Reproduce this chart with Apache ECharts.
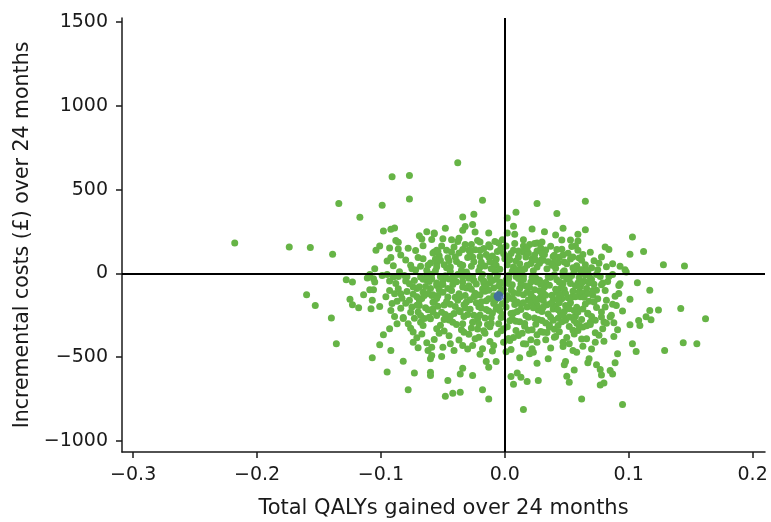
<!DOCTYPE html>
<html>
<head>
<meta charset="utf-8">
<script src="https://cdn.jsdelivr.net/npm/echarts@6/dist/echarts.min.js"></script>
<style>
  html, body { margin: 0; padding: 0; background: #fff; }
  #main { width: 771px; height: 522px; }
</style>
</head>
<body>
<div id="main"></div>
<script>
// bootstrap replicates: [QALYs gained, incremental cost £]
var simLeft = [
  [-0.218,181],[-0.174,157],[-0.157,154],[-0.139,114],[-0.134,417],
  [-0.160,-127],[-0.153,-191],[-0.140,-267],[-0.136,-420],
  [-0.091,576],[-0.077,584],[-0.099,407],[-0.077,444],[-0.117,335],[-0.098,253],[-0.092,263],[-0.089,271],
  [-0.069,225],[-0.063,249],[-0.057,237],[-0.067,205],[-0.059,202],[-0.088,196],[-0.086,185],[-0.101,163],
  [-0.104,138],[-0.093,151],[-0.086,145],[-0.072,136],[-0.057,127],[-0.092,94],[-0.095,74],[-0.090,46],
  [-0.076,48],[-0.075,28],[-0.068,42],[-0.062,48],[-0.055,58],[-0.105,28],[-0.109,-6],[-0.111,-28],
  [-0.106,-32],[-0.105,-52],[-0.099,-12],[-0.095,-6],[-0.090,-22],[-0.086,-18],[-0.080,-46],[-0.128,-38],
  [-0.123,-52],[-0.068,-22],[-0.063,-6],[-0.059,-32],
  [-0.125,-155],[-0.123,-187],[-0.118,-205],[-0.114,-127],[-0.109,-97],[-0.106,-97],[-0.107,-161],[-0.108,-211],
  [-0.101,-197],[-0.093,-102],[-0.089,-121],[-0.084,-121],[-0.087,-167],[-0.092,-221],[-0.079,-108],[-0.077,-161],
  [-0.075,-201],[-0.070,-231],[-0.069,-161],[-0.073,-42],[-0.082,-263],[-0.093,-331],[-0.098,-367],[-0.076,-327],
  [-0.101,-426],[-0.092,-460],[-0.107,-504],[-0.082,-524],[-0.074,-411],[-0.070,-444],[-0.063,-414],[-0.062,-460],
  [-0.060,-510],[-0.095,-588],[-0.073,-594],[-0.060,-590],[-0.060,-610],[-0.078,-695],[-0.066,-311],[-0.068,-291],
  [-0.060,-271],[-0.055,-251],[-0.069,-191],[-0.059,-132],[-0.058,-211],[-0.055,-331],[-0.071,-91],[-0.066,-112],
  [-0.060,-91],[-0.055,-72],[-0.058,-172],[-0.054,-132],
  [-0.088,-60],[-0.083,-148],[-0.079,-20],[-0.074,-82],[-0.071,-140],[-0.068,-252],[-0.066,-35],[-0.064,-205],
  [-0.082,-270],[-0.076,-232],[-0.072,20],[-0.080,80],[-0.085,10],
  [-0.096,-140],[-0.093,-45],[-0.091,-180],[-0.089,-258],[-0.086,-92],[-0.084,-208],[-0.081,-12],[-0.080,-178],
  [-0.078,-300],[-0.077,-62],[-0.074,-125],[-0.073,-268],[-0.071,-190],[-0.069,-80],[-0.067,-150],[-0.065,-270],
  [-0.063,-40],[-0.062,-120],[-0.084,110],[-0.078,150],[-0.070,95],[-0.066,165],[-0.074,-350],[-0.087,-300]
];
var simMid = [
  [-0.038,660],[-0.018,437],[0.026,417],[0.009,365],[0.002,331],[-0.025,353],[-0.034,337],[-0.026,291],
  [-0.032,279],[0.007,281],[0.022,265],[-0.048,269],[-0.057,241],[-0.013,241],[0.002,241],[0.008,233],
  [-0.024,247],[-0.034,257],[-0.037,209],[-0.043,201],[-0.050,207],[-0.002,201],[-0.008,190],[0.015,201],
  [0.026,181],[-0.020,187],[-0.027,173],[0.020,173],[-0.055,138],[-0.047,138],[-0.034,142],[-0.020,138],
  [-0.012,157],[-0.004,138],[0.007,138],[0.015,127],[-0.026,97],[-0.040,97],[-0.052,78],[-0.013,97],
  [0.000,88],[0.011,97],[0.022,88],[-0.034,48],[-0.044,38],[-0.020,38],[-0.007,48],[0.007,38],
  [0.018,48],[-0.055,38],[-0.042,-22],[-0.026,-32],[-0.012,-22],[0.003,-32],[0.015,-18],[-0.050,-42],
  [-0.034,-52],[-0.017,-58],[-0.004,-52],[0.023,-42],
  [-0.059,-490],[-0.051,-496],[-0.046,-640],[-0.036,-600],[-0.034,-566],[-0.026,-610],[-0.048,-734],[-0.042,-716],
  [-0.036,-710],[-0.018,-694],[-0.013,-749],[-0.020,-483],[-0.015,-526],[-0.007,-526],[-0.013,-560],[0.005,-616],
  [0.010,-594],[0.013,-620],[0.007,-662],[0.018,-646],[0.027,-640],[0.015,-813],[0.012,-504],[0.020,-480],
  [0.005,-454],[-0.050,-441],[-0.044,-420],[-0.059,-441],[-0.034,-430],[-0.026,-430],[-0.018,-450],[-0.009,-430],
  [-0.001,-411],[0.004,-401],[0.015,-420],[0.026,-411]
];
var simCore = [
  [-0.061,-48],[-0.057,-173],[-0.053,-96],[-0.051,-232],[-0.048,-14],[-0.046,-141],[-0.045,-278],[-0.042,-67],
  [-0.040,-198],[-0.039,-305],[-0.037,-122],[-0.034,-21],[-0.033,-187],[-0.031,-88],[-0.030,-246],[-0.028,-157],
  [-0.027,-326],[-0.025,-43],[-0.024,-118],[-0.022,-272],[-0.021,-199],[-0.019,-31],[-0.018,-93],[-0.017,-342],
  [-0.015,-163],[-0.013,-224],[-0.012,-56],[-0.011,-297],[-0.009,-134],[-0.008,12],[-0.007,-212],[-0.005,-76],
  [-0.003,-263],[-0.002,-181],[0.001,-39],[0.002,-318],[0.004,-148],[0.005,-97],[0.007,-236],[0.009,-18],
  [0.010,-171],[0.012,-289],[0.013,-63],[0.015,-128],[0.017,-251],[0.018,-201],[0.020,-84],[0.022,-336],
  [0.023,-145],[0.025,-27],[0.027,-219],[0.028,-104],[0.030,-281],[0.031,-162],[0.033,-55],[0.035,-243],
  [0.036,-308],[0.038,-131],[0.040,-8],[0.041,-196],[0.043,-268],[0.045,-89],[0.046,-152],[0.048,-227],
  [0.050,-33],[0.052,-317],[0.053,-176],[0.055,-106],[0.057,-254],[0.059,-58],[0.061,-139],[0.063,-212],
  [0.066,-91],[0.068,-167],[0.070,-37],
  [-0.065,-132],[-0.062,-217],[-0.059,-5],[-0.055,-58],[-0.050,-112],[-0.049,-188],[-0.044,-256],[-0.041,-38],
  [-0.038,-161],[-0.036,-229],[-0.032,-132],[-0.029,-74],[-0.026,-18],[-0.023,-176],[-0.020,-248],[-0.016,-106],
  [-0.014,-305],[-0.010,-42],[-0.006,-149],[-0.004,-222],[-0.001,-96],[0.003,-13],[0.006,-271],[0.008,-186],
  [0.011,-118],[0.014,-7],[0.016,-299],[0.019,-159],[0.021,-51],[0.024,-266],[0.026,-189],[0.029,-139],
  [0.032,-81],[0.034,-353],[0.037,-23],[0.039,-212],[0.042,-114],[0.044,-176],[0.047,-61],[0.049,-280],
  [0.051,-146],[0.054,-12],[0.056,-221],[0.058,-298],[0.060,-109],[0.064,-47],[0.067,-238],[0.071,-130],[0.074,-204],
  [-0.060,62],[-0.053,105],[-0.047,34],[-0.043,128],[-0.039,71],[-0.035,18],[-0.030,94],[-0.027,42],
  [-0.024,141],[-0.019,66],[-0.015,112],[-0.011,27],[-0.007,84],[-0.003,153],[0.002,51],[0.005,118],
  [0.009,74],[0.013,22],[0.017,98],[0.021,59],[0.026,134],[0.030,84],[0.034,27],[0.039,101],
  [0.043,63],[0.048,15],[0.053,86],[0.058,45],[0.063,112],[0.067,9],
  [-0.045,-372],[-0.037,-398],[-0.029,-364],[-0.021,-381],[-0.012,-407],[-0.006,-362],[0.003,-388],[0.011,-371],
  [0.017,-422],[0.026,-366],[0.033,-396],[0.041,-377],[0.047,-437],[0.056,-362],[0.062,-392],[-0.053,-358],
  [-0.064,-78],[-0.061,-262],[-0.058,-128],[-0.056,16],[-0.054,-196],[-0.052,-310],[-0.050,-67],[-0.048,-245],
  [-0.047,-168],[-0.045,-33],[-0.043,-102],[-0.042,-291],[-0.040,-143],[-0.038,-7],[-0.037,-221],[-0.035,-336],
  [-0.034,-82],[-0.033,-258],[-0.031,-171],[-0.029,-29],[-0.028,-214],[-0.026,-291],[-0.025,-139],[-0.023,-64],
  [-0.022,-332],[-0.020,-128],[-0.019,-207],[-0.018,-6],[-0.016,-266],[-0.015,-72],[-0.013,-151],[-0.012,-318],
  [-0.010,-237],[-0.009,-87],[-0.008,-164],[-0.006,-12],[-0.005,-301],[-0.004,-118],[-0.002,-246],[-0.001,-57],
  [0.001,-201],[0.002,-133],[0.004,-283],[0.006,-68],[0.007,-154],[0.009,-341],[0.010,-227],[0.012,-91],
  [0.013,-183],[0.015,-36],[0.016,-316],[0.018,-112],[0.019,-262],[0.021,-176],[0.022,-24],[0.024,-98],
  [0.025,-303],[0.027,-154],[0.028,-41],[0.030,-227],[0.031,-116],[0.033,-296],[0.034,-187],[0.036,-71],
  [0.037,-262],[0.039,-159],[0.040,-333],[0.042,-38],[0.043,-217],[0.045,-126],[0.046,-288],[0.048,-96],
  [0.049,-191],[0.051,-16],[0.052,-261],[0.054,-142],[0.055,-339],[0.057,-74],[0.058,-202],[0.060,-24],
  [0.062,-276],[0.063,-118],[0.065,-183],[0.066,-313],[0.068,-56],[0.070,-258],[0.072,-171],[0.074,-101],
  [0.077,-18],[0.080,-290],
  [-0.066,88],[-0.063,18],[-0.058,121],[-0.056,86],[-0.051,164],[-0.049,52],[-0.046,93],[-0.044,11],
  [-0.041,158],[-0.037,122],[-0.036,55],[-0.032,173],[-0.031,8],[-0.028,118],[-0.025,70],[-0.022,196],
  [-0.021,14],[-0.017,149],[-0.016,44],[-0.013,171],[-0.010,104],[-0.009,59],[-0.005,182],[-0.004,24],
  [-0.001,117],[0.001,164],[0.004,82],[0.006,12],[0.008,179],[0.011,133],[0.012,58],[0.015,164],
  [0.016,26],[0.019,122],[0.023,15],[0.024,109],[0.028,61],[0.029,152],[0.032,113],[0.035,69],
  [0.037,162],[0.041,31],[0.044,96],[0.046,144],[0.050,57],[0.051,120],[0.056,13],[0.057,164],
  [0.060,91],[0.065,52],[0.069,126],[0.072,76],[0.075,21],[0.078,98],[0.082,40],
  [-0.057,-395],[-0.049,-344],[-0.041,-461],[-0.033,-351],[-0.030,-452],[-0.024,-390],[-0.016,-358],[-0.010,-464],
  [-0.003,-343],[0.001,-468],[0.007,-382],[0.014,-357],[0.021,-396],[0.023,-470],[0.029,-347],[0.037,-446],
  [0.044,-348],[0.050,-383],[0.059,-341],[0.066,-390],[0.070,-452],[0.076,-370],[-0.067,-362],[-0.071,-384],
  [-0.058,-230],[-0.055,-150],[-0.052,-20],[-0.049,-275],[-0.046,-90],[-0.044,-185],[-0.041,-240],[-0.039,-50],
  [-0.036,-140],[-0.034,-300],[-0.032,-205],[-0.030,-10],[-0.027,-95],[-0.025,-250],[-0.023,-130],[-0.021,-300],
  [-0.019,-170],[-0.017,-45],[-0.015,-215],[-0.013,-100],[-0.011,-265],[-0.009,-180],[-0.007,-35],[-0.005,-200],
  [-0.003,-110],[-0.001,-330],[0.001,-160],[0.003,-60],[0.005,-240],[0.007,-115],[0.009,-285],[0.011,-30],
  [0.013,-215],[0.015,-175],[0.017,-75],[0.019,-340],[0.021,-125],[0.023,-205],[0.025,-160],[0.027,-275],
  [0.029,-65],[0.031,-200],[0.033,-130],[0.035,-20],[0.037,-180],[0.039,-280],[0.041,-95],[0.043,-150],
  [0.045,-240],[0.047,-15],[0.049,-120],[0.051,-205],[0.053,-60],[0.055,-265],[0.057,-140],[0.059,-230],
  [0.061,-80],[0.063,-320],[0.065,-10],[0.067,-120],
  [-0.054,130],[-0.045,75],[-0.038,190],[-0.029,140],[-0.020,100],[-0.012,70],[-0.006,130],[0.003,100],
  [0.010,20],[0.018,150],[0.025,80],[0.033,140],[0.040,70],[0.047,110],[0.054,160],[0.061,20]
];
var simRight = [
  [0.065,431],[0.042,357],[0.032,249],[0.047,269],[0.065,261],[0.059,233],[0.041,229],[0.046,199],
  [0.053,199],[0.059,193],[0.030,187],[0.024,178],[0.103,217],[0.081,157],[0.084,142],[0.059,138],
  [0.042,142],[0.030,118],[0.101,114],[0.040,108],[0.055,97],[0.062,78],[0.048,68],[0.031,78],
  [0.087,58],[0.093,42],[0.097,22],[0.070,34],[0.055,34],[0.038,48],[0.026,38],[0.062,22],
  [0.087,-6],[0.074,-6],[0.066,18],[0.047,8],[0.036,-22],[0.052,-32],[0.069,-28],[0.093,-62],
  [0.062,-58],[0.026,-52],[0.044,-52],[0.079,-58],
  [0.112,130],[0.128,52],[0.145,44],[0.098,8],[0.107,-56],
  [0.062,-749],[0.095,-783],[0.052,-650],[0.050,-614],[0.056,-576],[0.049,-526],[0.048,-546],[0.067,-534],
  [0.068,-510],[0.074,-546],[0.077,-574],[0.078,-606],[0.085,-580],[0.087,-600],[0.077,-666],[0.080,-654],
  [0.026,-536],[0.035,-510],[0.089,-534],[0.091,-480],[0.103,-420],[0.106,-466],[0.073,-411],[0.080,-405],
  [0.063,-435],[0.055,-460],[0.058,-471],[0.073,-355],[0.088,-377],[0.091,-337],[0.088,-295],[0.082,-297],
  [0.078,-261],[0.085,-261],[0.101,-307],[0.101,-155],[0.092,-72],[0.089,-136],[0.082,-161],[0.090,-191],
  [0.081,-201],[0.078,-68],[0.071,-102],[0.064,-142],[0.067,-241],[0.060,-311],[0.069,-291],[0.056,-281],
  [0.052,-211],[0.047,-251],[0.043,-311],[0.036,-321],[0.031,-351],[0.040,-381],[0.047,-411],[0.052,-420],
  [0.022,-450],
  [0.117,-100],[0.117,-221],[0.124,-219],[0.142,-209],[0.162,-271],[0.114,-259],[0.118,-277],[0.108,-281],
  [0.109,-311],[0.129,-460],[0.144,-414],[0.155,-420],
  [0.072,-65],[0.075,-152],[0.078,-230],[0.081,-102],[0.084,-18],[0.087,-185],[0.073,-280],[0.079,-330],
  [0.086,-250],[0.092,-120],[0.095,-225],[0.069,-305],[0.076,60],[0.083,-48]
];
var meanPoint = [[-0.005, -136]];

var qalyTicks = [-0.3, -0.2, -0.1, 0, 0.1, 0.2];
var costTicks = [-1000, -500, 0, 500, 1000, 1500];

var green = "#66b446";
var fontFam = "DejaVu Sans";

function minus(s) {
  return s.replace("-", "\u2212");
}

var myChart = echarts.init(document.getElementById("main"));

var allSims = simLeft.concat(simMid, simCore, simRight);

option = {
  backgroundColor: "#fff",
  animation: false,
  grid: {
    left: 122,
    right: 6,
    top: 18,
    bottom: 70,
    containLabel: false,
    outerBoundsMode: "none"
  },
  xAxis: {
    type: "value",
    min: -0.309,
    max: 0.21,
    name: "Total QALYs gained over 24 months",
    nameLocation: "middle",
    nameGap: 46,
    nameTextStyle: { fontFamily: fontFam, fontSize: 21, color: "#1a1a1a" },
    axisLine: { onZero: false, lineStyle: { color: "#1a1a1a", width: 1.5 } },
    axisTick: { show: true, customValues: qalyTicks, length: 6, lineStyle: { color: "#1a1a1a", width: 1.5 } },
    axisLabel: {
      customValues: qalyTicks,
      margin: 14,
      fontFamily: fontFam,
      fontSize: 19,
      color: "#1a1a1a",
      formatter: function (v) { return minus(v.toFixed(1)); }
    },
    splitLine: { show: false }
  },
  yAxis: {
    type: "value",
    min: -1066,
    max: 1524,
    name: "Incremental costs (£) over 24 months",
    nameLocation: "middle",
    nameGap: 76,
    nameTextStyle: { fontFamily: fontFam, fontSize: 20.5, color: "#1a1a1a" },
    axisLine: { onZero: false, lineStyle: { color: "#1a1a1a", width: 1.5 } },
    axisTick: { show: true, customValues: costTicks, length: 6, lineStyle: { color: "#1a1a1a", width: 1.5 } },
    axisLabel: {
      customValues: costTicks,
      margin: 14,
      fontFamily: fontFam,
      fontSize: 19,
      color: "#1a1a1a",
      formatter: function (v) { return minus(String(v)); }
    },
    splitLine: { show: false }
  },
  series: [
    {
      name: "simulations",
      type: "scatter",
      data: allSims,
      symbolSize: 7,
      itemStyle: { color: green, opacity: 1 },
      z: 2,
      markLine: {
        silent: true,
        symbol: "none",
        label: { show: false },
        lineStyle: { color: "#000", width: 2, type: "solid" },
        data: [{ xAxis: 0 }, { yAxis: 0 }]
      }
    },
    {
      name: "mean",
      type: "scatter",
      data: meanPoint,
      symbolSize: 10,
      itemStyle: { color: "#3a5fb0" },
      z: 5
    }
  ]
};

myChart.setOption(option);
</script>
</body>
</html>
